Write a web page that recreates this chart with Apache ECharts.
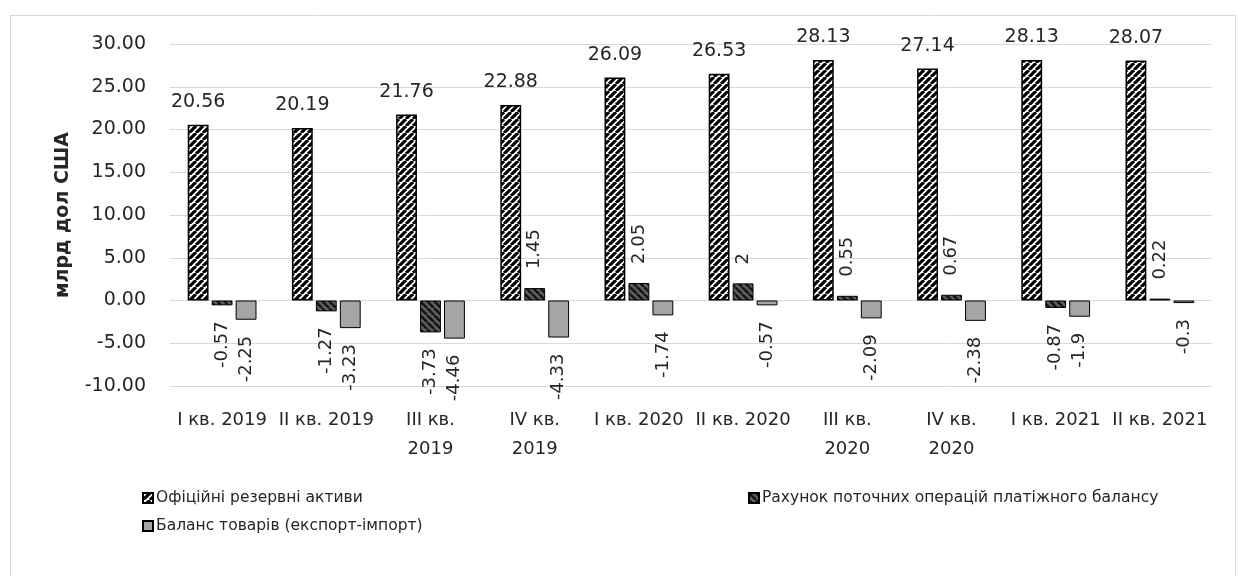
<!DOCTYPE html>
<html>
<head>
<meta charset="utf-8">
<script src="https://cdn.jsdelivr.net/npm/echarts@6/dist/echarts.min.js"></script>
<style>
html,body{margin:0;padding:0;background:#fff;}
#chart{width:1238px;height:576px;}
</style>
</head>
<body>
<div id="chart"></div>
<script>
const categories = ["I кв. 2019", "II кв. 2019", "III кв.\n2019", "IV кв.\n2019", "I кв. 2020", "II кв. 2020", "III кв.\n2020", "IV кв.\n2020", "I кв. 2021", "II кв. 2021"];
const seriesNames = ["Офіційні резервні активи", "Рахунок поточних операцій платіжного балансу", "Баланс товарів (експорт-імпорт)"];
const reserves = [20.56, 20.19, 21.76, 22.88, 26.09, 26.53, 28.13, 27.14, 28.13, 28.07];
const currentAccount = [-0.57, -1.27, -3.73, 1.45, 2.05, 2, 0.55, 0.67, -0.87, 0.22];
const tradeBalance = [-2.25, -3.23, -4.46, -4.33, -1.74, -0.57, -2.09, -2.38, -1.9, -0.3];
const yTicks = { min: -10, max: 30, interval: 5 };

function makePattern(bg, fg, dir, size, lw) {
  const c = document.createElement('canvas');
  c.width = size; c.height = size;
  const ctx = c.getContext('2d');
  ctx.fillStyle = bg; ctx.fillRect(0, 0, size, size);
  ctx.strokeStyle = fg; ctx.lineWidth = lw;
  ctx.beginPath();
  for (let k = -1; k <= 1; k++) {
    if (dir === '/') {
      ctx.moveTo(k * size, size); ctx.lineTo(k * size + size, 0);
    } else {
      ctx.moveTo(k * size, 0); ctx.lineTo(k * size + size, size);
    }
  }
  ctx.stroke();
  return c;
}
const pat1 = makePattern('#ffffff', '#000000', '/', 7, 3.2);
const pat2 = makePattern('#606060', '#151515', '\\', 7, 2.5);

const FONT = 'DejaVu Sans';
function rotLabel(v) {
  return v >= 0
    ? { position: 'top', rotate: 90, align: 'left', verticalAlign: 'middle', distance: 16, offset: [3, 0] }
    : { position: 'bottom', rotate: 90, align: 'right', verticalAlign: 'middle', distance: 19, offset: [3, 0] };
}
function mkData(arr) {
  return arr.map(v => ({ value: v, label: rotLabel(v) }));
}
const legendText = { fontFamily: FONT, fontSize: 15.5, color: '#262626', padding: [0, 0, 0, -2] };

const chart = echarts.init(document.getElementById('chart'));
chart.setOption({
  animation: false,
  backgroundColor: '#ffffff',
  graphic: [{
    type: 'rect', left: 8, top: 13, shape: { width: 1225, height: 580 },
    style: { fill: 'none', stroke: '#d9d9d9', lineWidth: 1 }, silent: true, z: -1
  }],
  grid: { left: 170, right: 26, top: 44, bottom: 190 },
  legend: [
    { data: [seriesNames[0]], left: 137, top: 485, icon: 'rect', itemWidth: 10, itemHeight: 10, textStyle: legendText },
    { data: [seriesNames[1]], left: 743, top: 485, icon: 'rect', itemWidth: 10, itemHeight: 10, textStyle: legendText },
    { data: [seriesNames[2]], left: 137, top: 513, icon: 'rect', itemWidth: 10, itemHeight: 10, textStyle: legendText }
  ],
  xAxis: {
    type: 'category', data: categories,
    axisLine: { show: false, onZero: false }, axisTick: { show: false },
    axisLabel: { interval: 0, margin: 20, fontFamily: FONT, fontSize: 18, lineHeight: 29, color: '#262626' }
  },
  yAxis: {
    type: 'value', min: yTicks.min, max: yTicks.max, interval: yTicks.interval,
    name: 'млрд дол США', nameLocation: 'middle', nameGap: 97, nameRotate: 90,
    nameTextStyle: { fontFamily: FONT, fontSize: 19, fontWeight: 'bold', color: '#262626' },
    axisLine: { show: false }, axisTick: { show: false },
    axisLabel: { margin: 24, fontFamily: FONT, fontSize: 19, color: '#262626', formatter: v => v.toFixed(2) },
    splitLine: { lineStyle: { color: '#d9d9d9', width: 1 } }
  },
  series: [
    { name: seriesNames[0], type: 'bar', data: reserves, barWidth: '20%', barGap: '15%',
      itemStyle: { color: { image: pat1, repeat: 'repeat' }, borderColor: '#000', borderWidth: 1.5 },
      label: { show: true, position: 'top', distance: 13, fontFamily: FONT, fontSize: 19, color: '#262626' } },
    { name: seriesNames[1], type: 'bar', data: mkData(currentAccount), barWidth: '20%', barGap: '15%',
      itemStyle: { color: { image: pat2, repeat: 'repeat' }, borderColor: '#000', borderWidth: 1 },
      label: { show: true, fontFamily: FONT, fontSize: 18, color: '#262626' } },
    { name: seriesNames[2], type: 'bar', data: mkData(tradeBalance), barWidth: '20%', barGap: '15%',
      itemStyle: { color: '#a5a5a5', borderColor: '#000', borderWidth: 1 },
      label: { show: true, fontFamily: FONT, fontSize: 18, color: '#262626' } }
  ]
});
</script>
</body>
</html>
